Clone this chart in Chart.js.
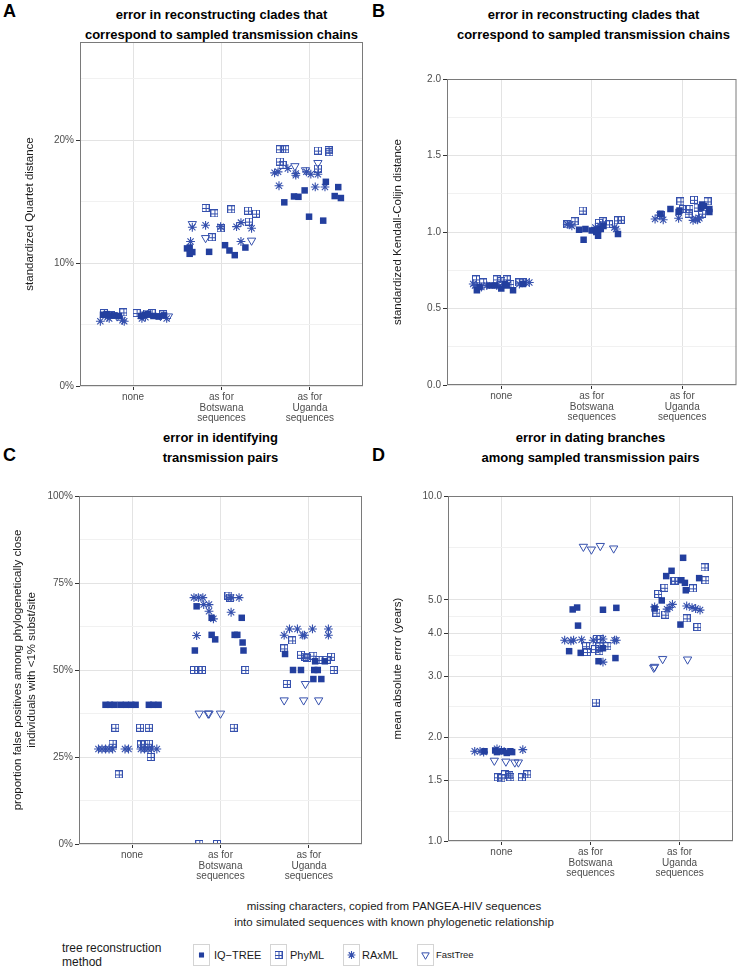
<!DOCTYPE html>
<html>
<head>
<meta charset="utf-8">
<script src="https://cdn.jsdelivr.net/npm/chart.js@4.4.0/dist/chart.umd.min.js"></script>
<style>
  body { margin: 0; background: #fff; width: 742px; height: 969px; position: relative; overflow: hidden;
         font-family: "Liberation Sans", Arial, sans-serif; color: #000; }
  canvas { position: absolute; }
  .ttl { position: absolute; text-align: center; font-weight: bold; font-size: 13px; line-height: 19.5px; }
  .letter { position: absolute; font-weight: bold; font-size: 18px; line-height: 18px; }
  .cap { position: absolute; text-align: center; font-size: 11.5px; line-height: 16px; color: #1a1a1a; }
  .key { position: absolute; top: 944px; width: 17px; height: 22px; border: 1px solid #d4d4d4; box-sizing: border-box; }
  .keytxt { position: absolute; top: 948px; font-size: 11px; line-height: 14px; color: #1a1a1a; }
</style>
</head>
<body>
<div class="letter" style="left:3px;top:2px">A</div>
<div class="letter" style="left:372px;top:2px">B</div>
<div class="letter" style="left:3px;top:446px">C</div>
<div class="letter" style="left:372px;top:446px">D</div>

<div class="ttl" style="left:80px;width:283px;top:5px">error in reconstructing clades that<br>correspond to sampled transmission chains</div>
<div class="ttl" style="left:447px;width:293px;top:5px">error in reconstructing clades that<br>correspond to sampled transmission chains</div>
<div class="ttl" style="left:79px;width:283px;top:428px">error in identifying<br>transmission pairs</div>
<div class="ttl" style="left:448px;width:285px;top:428px">error in dating branches<br>among sampled transmission pairs</div>

<canvas id="chartA" width="371" height="398" style="left:0;top:32px"></canvas>
<canvas id="chartB" width="371" height="361" style="left:371px;top:69px"></canvas>
<canvas id="chartC" width="371" height="402" style="left:0;top:486px"></canvas>
<canvas id="chartD" width="371" height="402" style="left:371px;top:486px"></canvas>

<div class="cap" style="left:94px;width:600px;top:898px">missing characters, copied from PANGEA-HIV sequences<br>into simulated sequences with known phylogenetic relationship</div>

<div class="cap" style="left:62px;top:941px;text-align:left;font-size:12px;line-height:14px">tree reconstruction<br>method</div>
<div id="legend"></div>

<script>
// categories and methods
const categories = ['none', ['as for', 'Botswana', 'sequences'], ['as for', 'Uganda', 'sequences']];
const methods = ['IQ\u2212TREE', 'PhyML', 'RAxML', 'FastTree'];

// A: standardized Quartet distance (%), points as [x position, value]
const aIqtree = [[0.66,5.8],[0.70,5.85],[0.74,5.75],[0.79,5.75],[0.84,5.7],[1.09,5.7],[1.13,5.8],[1.17,5.85],[1.23,5.7],[1.29,5.65],[1.35,5.75],
  [1.61,11.2],[1.64,11.27],[1.64,10.76],[1.67,10.9],[1.86,10.92],[2.04,11.46],[2.09,11.03],[2.15,10.65],[2.27,11.27],
  [3.18,16.62],[3.32,16.19],[2.94,15.92],[2.82,15.43],[2.87,15.4],[2.71,14.95],[3.28,15.46],[3.35,15.3],[2.99,13.78],[3.15,13.46]];
const aPhyml = [[0.67,5.94],[0.75,5.78],[0.89,5.99],[1.04,5.94],[1.16,5.9],[1.21,5.94],[1.34,5.83],
  [1.82,14.49],[1.92,14.05],[2.11,14.38],[2.30,14.27],[2.39,14.03],[2.31,13.38],[1.99,12.84],[1.89,12.11],
  [2.66,19.27],[2.72,19.27],[3.09,19.16],[3.21,19.19],[3.22,19.03],[2.66,18.27],[2.69,18.0],[3.09,17.7]];
const aRaxml = [[0.63,5.27],[0.71,5.6],[0.73,5.5],[0.88,5.35],[0.90,5.27],[1.10,5.5],[1.14,5.6],[1.38,5.5],
  [1.67,12.92],[1.82,13.08],[1.99,12.97],[2.17,12.97],[2.22,13.3],[2.34,12.84],[1.65,11.76],[2.22,11.76],
  [2.60,17.35],[2.64,17.43],[2.75,17.7],[2.84,17.3],[2.84,17.16],[2.96,17.43],[3.01,17.24],[3.09,17.24],[2.65,16.3],[3.06,16.2],[3.17,16.2]];
const aFasttree = [[0.82,5.67],[1.31,5.7],[1.40,5.67],
  [1.67,13.19],[1.82,12.05],[2.34,11.84],
  [2.83,17.9],[2.95,17.57],[3.09,18.16]];
const aMajor = [0, 10, 20];
const aMinor = [5, 15, 25];

// B: standardized Kendall-Colijn distance
const bIqtree = [[0.73,0.62],[0.76,0.64],[0.87,0.65],[0.93,0.65],[1.0,0.63],[1.04,0.66],[1.06,0.65],[1.13,0.62],[1.24,0.66],
  [1.86,1.015],[1.91,0.95],[1.93,1.02],[2.0,1.01],[2.05,1.0],[2.07,0.976],[2.07,1.015],[2.1,1.02],[2.13,1.04],[2.29,0.987],
  [2.76,1.12],[2.87,1.15],[2.96,1.13],[2.97,1.14],[3.21,1.16],[3.22,1.18],[3.24,1.17],[3.30,1.15],[3.30,1.13]];
const bPhyml = [[0.72,0.69],[0.80,0.67],[0.95,0.69],[1.0,0.68],[1.06,0.69],[1.1,0.66],[1.2,0.67],[1.24,0.67],
  [1.73,1.05],[1.81,1.07],[1.9,1.14],[2.08,1.06],[2.12,1.07],[2.19,1.05],[2.29,1.076],[2.32,1.08],
  [2.76,1.11],[2.98,1.2],[3.01,1.15],[3.07,1.12],[3.08,1.15],[3.13,1.21],[3.17,1.16],[3.22,1.12],[3.28,1.2]];
const bRaxml = [[0.69,0.66],[0.71,0.65],[0.78,0.64],[0.84,0.65],[0.95,0.65],[1.2,0.66],[1.27,0.67],[1.31,0.67],
  [1.73,1.05],[1.76,1.05],[1.78,1.04],[2.04,1.03],[2.09,1.04],[2.12,1.05],[2.25,1.03],[2.27,1.02],
  [2.70,1.085],[2.75,1.11],[2.79,1.08],[2.96,1.09],[3.12,1.076],[3.15,1.085],[3.17,1.08],[3.19,1.09]];
const bFasttree = [];
const bMajor = [0, 0.5, 1, 1.5, 2];
const bMinor = [0.25, 0.75, 1.25, 1.75];

// C: proportion false positives (%)
const cIqtree = [[0.70,40],[0.75,40],[0.80,40],[0.87,40],[0.93,40],[0.99,40],[1.04,40],[1.19,40],[1.24,40],[1.30,40],
  [1.73,68.3],[1.90,65],[2.24,65],[1.90,60.1],[1.94,58.8],[2.16,60.1],[2.19,60.1],[2.25,57.9],[2.26,55.6],[1.71,55.6],
  [2.73,54.6],[2.82,50],[2.91,50],[3.06,50],[3.10,50],[3.07,52.5],[3.18,52.5],[3.05,47.4],[3.14,47.4]];
const cPhyml = [[0.81,33.4],[1.09,33.4],[1.19,33.4],[0.78,28.8],[1.10,28.6],[1.14,28.8],[1.19,28.8],[0.85,20],[1.21,25],
  [2.09,71.4],[2.11,70.8],[1.70,50],[1.75,50],[1.79,50],[2.28,50],[2.15,33.4],[1.76,0],[1.96,0],
  [2.81,58.5],[2.72,56.2],[2.91,54.4],[2.96,53.8],[2.98,53.5],[3.05,54.1],[3.11,52.9],[3.20,52.9],[3.25,53.8],[3.28,50],[2.75,46]];
const cRaxml = [[0.62,27.3],[0.66,27.3],[0.70,27.3],[0.74,27.3],[0.78,27.3],[0.92,27.3],[0.96,27.3],[1.10,27.3],[1.14,27.3],[1.18,27.3],[1.22,27.3],[1.28,27.3],
  [1.70,70.8],[1.75,70.8],[1.80,70.8],[1.81,68.8],[1.87,68.8],[1.87,66.9],[1.92,64.7],[2.12,70.8],[2.21,70.8],[2.12,66.6],[1.73,59.9],
  [2.72,60],[2.78,61.8],[2.87,61.8],[2.93,60],[2.95,60],[3.04,61.8],[3.22,61.8],[3.22,60]];
const cFasttree = [[1.76,37.5],[1.86,37.5],[1.87,37.5],[2.00,37.5],
  [2.96,46],[2.72,41.3],[2.94,41.3],[3.11,41.3]];
const cMajor = [0, 25, 50, 75, 100];
const cMinor = [12.5, 37.5, 62.5, 87.5];

// D: mean absolute error (years), log axis
const dIqtree = [[0.81,1.82],[0.93,1.83],[0.95,1.81],[1.02,1.82],[1.06,1.8],[1.10,1.82],[1.12,1.81],
  [1.76,3.55],[1.89,3.51],[2.09,3.32],[2.28,3.39],[2.14,3.62],[1.80,4.69],[1.85,4.75],[2.14,4.68],[2.29,4.74],[1.86,4.21],
  [3.04,6.62],[2.91,6.07],[2.85,5.86],[3.02,5.7],[3.06,5.6],[3.22,5.78],[3.07,5.33],[2.80,4.98],[3.01,4.24],[2.72,4.72]];
const dPhyml = [[0.96,1.53],[1.0,1.52],[1.04,1.56],[1.09,1.55],[1.10,1.53],[1.23,1.53],[1.29,1.56],
  [2.06,2.52],[1.96,3.53],[2.07,3.85],[2.11,3.85],[1.95,3.67],[2.10,3.66],[2.19,3.67],[2.10,3.55],[2.05,3.6],
  [3.28,6.21],[3.29,5.7],[2.94,5.68],[2.95,5.68],[2.83,5.42],[2.76,5.2],[3.15,5.4],[2.74,4.59],[2.84,4.53],[3.08,4.42],[3.20,4.17]];
const dRaxml = [[0.70,1.82],[0.76,1.82],[0.80,1.81],[0.95,1.85],[1.0,1.83],[1.24,1.84],
  [1.71,3.82],[1.78,3.8],[1.81,3.82],[1.90,3.83],[2.03,3.82],[2.14,3.85],[2.27,3.82],[2.29,3.82],[2.14,3.3],
  [2.72,4.77],[2.86,4.7],[2.89,4.75],[2.92,4.85],[3.08,4.8],[3.14,4.75],[3.18,4.72],[3.23,4.67]];
const dFasttree = [[0.92,1.71],[1.05,1.70],[1.15,1.69],[1.19,1.69],
  [1.92,7.13],[2.01,7.0],[2.11,7.17],[2.26,7.05],
  [2.81,3.37],[3.09,3.36],[2.71,3.18],[2.72,3.2]];
const dMajor = [1, 1.5, 2, 3, 4, 5, 10];
const dMinor = [1.22, 1.73, 2.45, 3.46, 4.47, 7.07];

const fontFamily = '"Liberation Sans", Arial, sans-serif';
const blueFill = '#233f9e';
const blueLine = '#3550ad';

// square with a plus inside, for PhyML
function plusBox(size, color) {
  const c = document.createElement('canvas');
  c.width = size; c.height = size;
  const g = c.getContext('2d');
  g.strokeStyle = color; g.lineWidth = 1;
  g.strokeRect(0.5, 0.5, size - 1, size - 1);
  const m = Math.floor(size / 2) + 0.5;
  g.beginPath();
  g.moveTo(m, 0); g.lineTo(m, size);
  g.moveTo(0, m); g.lineTo(size, m);
  g.stroke();
  return c;
}
const phymlIcon = plusBox(8, blueLine);

const pointLooks = [
  { pointStyle: 'rect', pointRadius: 4.6, pointBackgroundColor: blueFill, pointBorderColor: blueFill, pointBorderWidth: 0 },
  { pointStyle: phymlIcon, pointRadius: 4, pointBackgroundColor: 'rgba(0,0,0,0)', pointBorderColor: blueLine, pointBorderWidth: 1 },
  { pointStyle: 'star', pointRadius: 4.4, pointBackgroundColor: 'rgba(0,0,0,0)', pointBorderColor: blueLine, pointBorderWidth: 1.1 },
  { pointStyle: 'triangle', pointRotation: 180, pointRadius: 4.8, pointBackgroundColor: 'rgba(0,0,0,0)', pointBorderColor: blueLine, pointBorderWidth: 1 }
];

const framePlugin = {
  id: 'frame',
  afterDatasetsDraw(chart) {
    const a = chart.chartArea, ctx = chart.ctx;
    ctx.save();
    ctx.strokeStyle = '#7a7a7a';
    ctx.lineWidth = 1;
    ctx.strokeRect(a.left + 0.5, a.top + 0.5, a.width - 1, a.height - 1);
    ctx.restore();
  }
};

function gridFor(major) {
  const isMajor = c => c.tick && major.includes(c.tick.value);
  return {
    color: c => isMajor(c) ? '#e3e3e3' : '#f1f1f1',
    lineWidth: 1,
    tickColor: c => isMajor(c) ? '#333333' : 'rgba(0,0,0,0)',
    tickWidth: 1,
    tickLength: 4,
    drawTicks: true
  };
}

function makePanel(id, o) {
  const tickFont = { family: fontFamily, size: 10, lineHeight: 1.05 };
  return new Chart(document.getElementById(id), {
    type: 'scatter',
    data: {
      datasets: o.series.map((s, i) => Object.assign({
        label: methods[i],
        data: s.map(p => ({ x: p[0], y: p[1] }))
      }, pointLooks[i]))
    },
    options: {
      responsive: false,
      animation: false,
      devicePixelRatio: 1,
      layout: { padding: { top: 10, right: o.padRight, bottom: 0, left: 0 } },
      plugins: { legend: { display: false }, tooltip: { enabled: false } },
      scales: {
        x: {
          type: 'linear', min: 0.4, max: 3.6,
          afterBuildTicks: s => { s.ticks = [1, 2, 3].map(v => ({ value: v })); },
          afterFit: s => { s.height = o.xHeight; },
          ticks: { callback: v => categories[Math.round(v) - 1], font: tickFont, color: '#4d4d4d', padding: 2, maxRotation: 0, autoSkip: false },
          grid: gridFor([1, 2, 3]),
          border: { display: false }
        },
        y: {
          type: o.log ? 'logarithmic' : 'linear', min: o.min, max: o.max,
          afterBuildTicks: s => { s.ticks = o.major.concat(o.minor).sort((a, b) => a - b).map(v => ({ value: v })); },
          afterFit: s => { s.width = o.yWidth; },
          ticks: { callback: v => o.major.includes(v) ? o.fmt(v) : '', font: tickFont, color: '#4d4d4d', padding: 2, autoSkip: false },
          grid: gridFor(o.major),
          border: { display: false },
          title: { display: true, text: o.yTitle, color: '#1a1a1a',
                   font: { family: fontFamily, size: 11.5, lineHeight: 1.22 }, padding: { top: o.titlePad, bottom: 0 } }
        }
      }
    },
    plugins: [framePlugin]
  });
}

makePanel('chartA', {
  series: [aIqtree, aPhyml, aRaxml, aFasttree], min: 0, max: 28, major: aMajor, minor: aMinor,
  fmt: v => v + '%', yTitle: 'standardized Quartet distance', yWidth: 80, xHeight: 44, padRight: 8, titlePad: 23
});
makePanel('chartB', {
  series: [bIqtree, bPhyml, bRaxml, bFasttree], min: 0, max: 2, major: bMajor, minor: bMinor,
  fmt: v => v.toFixed(1), yTitle: 'standardized Kendall-Colijn distance', yWidth: 76, xHeight: 45, padRight: 2, titlePad: 20
});
makePanel('chartC', {
  series: [cIqtree, cPhyml, cRaxml, cFasttree], min: 0, max: 100, major: cMajor, minor: cMinor,
  fmt: v => v + '%', yTitle: ['proportion false positives among phylogenetically close', 'individuals with <1% subst/site'],
  yWidth: 79, xHeight: 44, padRight: 9, titlePad: 11
});
makePanel('chartD', {
  series: [dIqtree, dPhyml, dRaxml, dFasttree], min: 1, max: 10, log: true, major: dMajor, minor: dMinor,
  fmt: v => v.toFixed(1), yTitle: 'mean absolute error (years)', yWidth: 77, xHeight: 47, padRight: 9, titlePad: 20
});

// legend keys drawn with Chart.js point helper
const legendSpots = [
  { box: 193, text: 214, size: 11 },
  { box: 270, text: 290, size: 11 },
  { box: 343, text: 362, size: 11 },
  { box: 417, text: 436, size: 9.5 }
];
const legend = document.getElementById('legend');
methods.forEach((m, i) => {
  const box = document.createElement('div');
  box.className = 'key';
  box.style.left = legendSpots[i].box + 'px';
  const cv = document.createElement('canvas');
  cv.width = 15; cv.height = 20;
  cv.style.position = 'static';
  box.appendChild(cv);
  legend.appendChild(box);
  const g = cv.getContext('2d');
  const look = pointLooks[i];
  g.fillStyle = look.pointBackgroundColor;
  g.strokeStyle = look.pointBorderColor;
  g.lineWidth = look.pointBorderWidth;
  Chart.helpers.drawPoint(g, { pointStyle: look.pointStyle, radius: i === 0 ? 3.6 : look.pointRadius - 0.5,
    rotation: look.pointRotation || 0, borderWidth: look.pointBorderWidth }, 7.5, 10);
  const t = document.createElement('div');
  t.className = 'keytxt';
  t.style.left = legendSpots[i].text + 'px';
  t.style.fontSize = legendSpots[i].size + 'px';
  t.textContent = m;
  legend.appendChild(t);
});
</script>
</body>
</html>
